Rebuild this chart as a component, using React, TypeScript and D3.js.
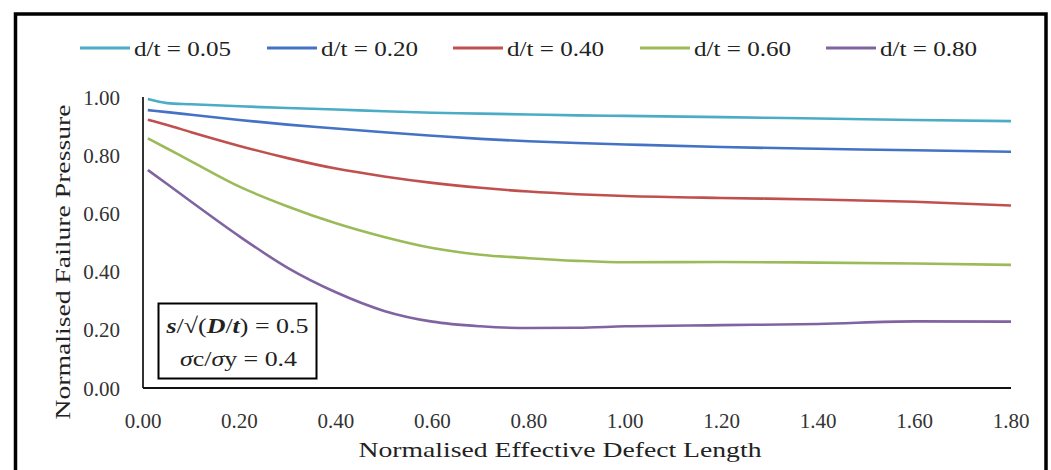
import React from "react";
import * as d3 from "d3";

const xValues = [0.01, 0.05, 0.1, 0.2, 0.3, 0.4, 0.5, 0.6, 0.7, 0.8, 0.9, 1.0, 1.2, 1.4, 1.6, 1.8];
const s005 = [0.993, 0.979, 0.975, 0.968, 0.962, 0.957, 0.951, 0.946, 0.943, 0.940, 0.937, 0.935, 0.931, 0.926, 0.921, 0.917];
const s020 = [0.955, 0.948, 0.939, 0.921, 0.905, 0.892, 0.879, 0.867, 0.856, 0.848, 0.842, 0.837, 0.828, 0.822, 0.817, 0.812];
const s040 = [0.922, 0.904, 0.879, 0.832, 0.790, 0.754, 0.727, 0.705, 0.688, 0.675, 0.666, 0.660, 0.653, 0.648, 0.640, 0.627];
const s060 = [0.858, 0.823, 0.779, 0.692, 0.624, 0.566, 0.519, 0.481, 0.458, 0.446, 0.437, 0.432, 0.433, 0.431, 0.428, 0.423];
const s080 = [0.749, 0.701, 0.640, 0.521, 0.413, 0.329, 0.265, 0.228, 0.212, 0.206, 0.207, 0.212, 0.216, 0.220, 0.229, 0.228];

const seriesNames = ["d/t = 0.05", "d/t = 0.20", "d/t = 0.40", "d/t = 0.60", "d/t = 0.80"];
const seriesValues = [s005, s020, s040, s060, s080];
const seriesColors = ["#4BACC6", "#4472C4", "#C0504D", "#9BBB59", "#8064A2"];

const xTicks = [0, 0.2, 0.4, 0.6, 0.8, 1.0, 1.2, 1.4, 1.6, 1.8];
const yTicks = [0, 0.2, 0.4, 0.6, 0.8, 1.0];

const FONT = "'Liberation Serif', 'Times New Roman', serif";

export default function App() {
  const x = d3.scaleLinear().domain([0, 1.8]).range([143, 1011]);
  const y = d3.scaleLinear().domain([0, 1]).range([388, 97]);
  const line = d3
    .line<number>()
    .x((_, i) => x(xValues[i]))
    .y((v) => y(v))
    .curve(d3.curveMonotoneX);

  const legendLineStart = [80, 267, 453, 640, 826];

  return (
    <svg
      width={1051}
      height={470}
      style={{ position: "absolute", left: 0, top: 0, background: "#fff" }}
      fontFamily={FONT}
    >
      <rect x={0} y={0} width={1051} height={470} fill="#fff" />
      {/* outer frame */}
      <path d="M15.5,480 L15.5,14 L1046,14 L1046,480" fill="none" stroke="#000" strokeWidth={3.5} />

      {/* legend */}
      {seriesNames.map((name, i) => (
        <g key={name}>
          <line
            x1={legendLineStart[i]}
            x2={legendLineStart[i] + 50}
            y1={48}
            y2={48}
            stroke={seriesColors[i]}
            strokeWidth={3}
          />
          <text
            x={legendLineStart[i] + 54}
            y={56}
            fontSize={21}
            fill="#222"
            textLength={97}
            lengthAdjust="spacingAndGlyphs"
          >
            {name}
          </text>
        </g>
      ))}

      {/* series */}
      {seriesValues.map((vals, i) => (
        <path
          key={i}
          d={line(vals) || ""}
          fill="none"
          stroke={seriesColors[i]}
          strokeWidth={2.6}
          strokeLinejoin="round"
        />
      ))}

      {/* axes */}
      <line x1={x(0)} x2={x(0)} y1={y(1)} y2={y(0)} stroke="#333" strokeWidth={2} />
      <line x1={x(0)} x2={x(1.8)} y1={y(0)} y2={y(0)} stroke="#111" strokeWidth={2} />

      {xTicks.map((t) => (
        <text key={"x" + t} x={x(t)} y={428} fontSize={21} textAnchor="middle" fill="#333">
          {t.toFixed(2)}
        </text>
      ))}
      {yTicks.map((t) => (
        <text key={"y" + t} x={120} y={y(t) + 7.5} fontSize={21} textAnchor="end" fill="#333">
          {t.toFixed(2)}
        </text>
      ))}

      {/* axis titles */}
      <text x={560} y={457} fontSize={22} textAnchor="middle" fill="#222" textLength={403} lengthAdjust="spacingAndGlyphs">
        Normalised Effective Defect Length
      </text>
      <text
        transform="translate(70,262) rotate(-90)"
        fontSize={22}
        textAnchor="middle"
        fill="#222"
        textLength={315}
        lengthAdjust="spacingAndGlyphs"
      >
        Normalised Failure Pressure
      </text>

      {/* annotation box */}
      <rect x={158.5} y={303.5} width={158} height={75} fill="#fff" stroke="#000" strokeWidth={2} />
      <text x={166.5} y={333} fontSize={22} fill="#222" textLength={142} lengthAdjust="spacingAndGlyphs">
        <tspan fontWeight="bold" fontStyle="italic">s</tspan>
        <tspan>/√(</tspan>
        <tspan fontWeight="bold" fontStyle="italic">D</tspan>
        <tspan>/</tspan>
        <tspan fontWeight="bold" fontStyle="italic">t</tspan>
        <tspan>) = 0.5</tspan>
      </text>
      <text x={180} y={366} fontSize={22} fill="#222" textLength={117} lengthAdjust="spacingAndGlyphs">
        <tspan fontStyle="italic">σ</tspan>
        <tspan>c/</tspan>
        <tspan fontStyle="italic">σ</tspan>
        <tspan>y = 0.4</tspan>
      </text>
    </svg>
  );
}
